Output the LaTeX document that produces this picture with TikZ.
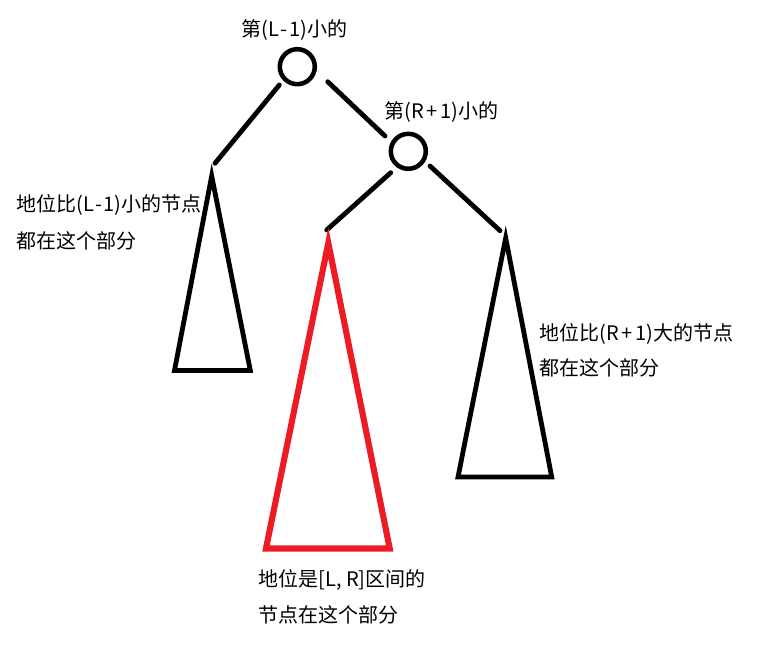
\documentclass[tikz,border=0pt]{standalone}
\usepackage{fontspec}
\newfontfamily\cjk{Noto Sans CJK SC}
\definecolor{paintred}{HTML}{ED1C24}
\newcommand{\pluspad}{\kern2pt+\kern2pt}
\newcommand{\minuspad}{\kern1pt-\kern1pt}
\begin{document}
\begin{tikzpicture}[x=0.75pt,y=-0.75pt,
  treenode/.style={circle,draw=black,line width=3.4pt,inner sep=0pt,minimum size=26.25pt},
  branch/.style={draw=black,line width=3.6pt,line cap=round},
  subtree/.style={draw=black,line width=3.6pt,line join=miter},
  redtree/.style={draw=paintred,line width=4.6pt,line join=miter},
  lbl/.style={font=\cjk\fontsize{15pt}{15pt}\selectfont,inner sep=0pt,anchor=base west}]
\useasboundingbox (0,0) rectangle (759,648);
% nodes
\node[treenode] (n1) at (297.3,66.7) {};
\node[treenode] (n2) at (408.3,151.3) {};
\node[lbl] (t1) at (241.7,37) {第(L\minuspad 1)小的};
\node[lbl] (t2) at (384,118.5) {第(R\pluspad 1)小的};
% branch end points
\coordinate (b1s) at (279.3,85);
\coordinate (b1e) at (215,163.3);
\coordinate (b2s) at (327.7,81.7);
\coordinate (b2e) at (385,136);
\coordinate (b3s) at (390.7,172.7);
\coordinate (b3e) at (326.7,230);
\coordinate (b4s) at (430,166);
\coordinate (b4e) at (500,230.7);
\draw[branch] (b1s) -- (b1e);
\draw[branch] (b2s) -- (b2e);
\draw[branch] (b3s) -- (b3e);
\draw[branch] (b4s) -- (b4e);
% subtrees
\coordinate (la) at (211.7,176);
\coordinate (lb) at (174.5,370.5);
\coordinate (lc) at (250.3,370.5);
\draw[subtree] (la) -- (lb) -- (lc) -- cycle;
\coordinate (ma) at (328.3,243);
\coordinate (mb) at (266,548.5);
\coordinate (mc) at (389.7,548.5);
\draw[redtree] (ma) -- (mb) -- (mc) -- cycle;
\coordinate (ra) at (505.7,238);
\coordinate (rb) at (458,477);
\coordinate (rc) at (551.7,477);
\draw[subtree] (ra) -- (rb) -- (rc) -- cycle;
% labels
\node[lbl] (l1) at (16,212) {地位比(L\minuspad 1)小的节点};
\node[lbl] (l2) at (16,248.5) {都在这个部分};
\node[lbl] (r1) at (539.3,340) {地位比(R\pluspad 1)大的节点};
\node[lbl] (r2) at (539.3,375) {都在这个部分};
\node[lbl] (m1) at (258.3,586.5) {地位是[L, R]区间的};
\node[lbl] (m2) at (258.3,622) {节点在这个部分};
\end{tikzpicture}
\end{document}
